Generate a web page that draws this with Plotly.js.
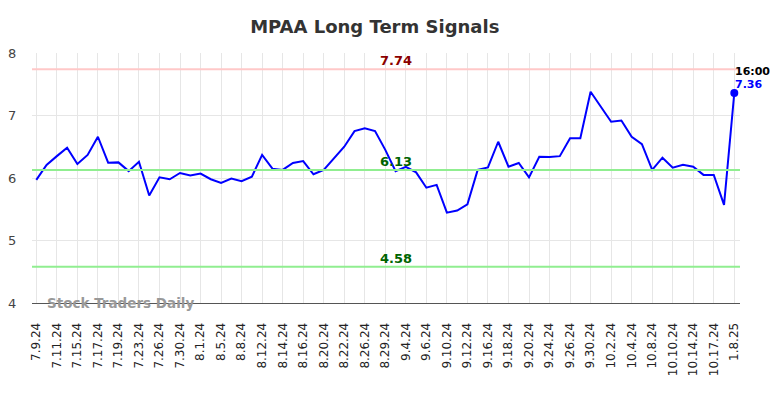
<!DOCTYPE html>
<html>
<head>
<meta charset="utf-8">
<script src="https://cdn.plot.ly/plotly-3.0.1.min.js"></script>
<style>html,body{margin:0;padding:0;background:#fff;}#chart{width:784px;height:398px;}</style>
</head>
<body>
<div id="chart"></div>
<script>
const dates = [
  "7.9.24","7.10.24","7.11.24","7.12.24","7.15.24","7.16.24","7.17.24","7.18.24","7.19.24","7.22.24",
  "7.23.24","7.25.24","7.26.24","7.29.24","7.30.24","7.31.24","8.1.24","8.2.24","8.5.24","8.7.24",
  "8.8.24","8.9.24","8.12.24","8.13.24","8.14.24","8.15.24","8.16.24","8.19.24","8.20.24","8.21.24",
  "8.22.24","8.23.24","8.26.24","8.27.24","8.29.24","9.3.24","9.4.24","9.5.24","9.6.24","9.9.24",
  "9.10.24","9.11.24","9.12.24","9.13.24","9.16.24","9.17.24","9.18.24","9.19.24","9.20.24","9.23.24",
  "9.24.24","9.25.24","9.26.24","9.27.24","9.30.24","10.1.24","10.2.24","10.3.24","10.4.24","10.7.24",
  "10.8.24","10.9.24","10.10.24","10.11.24","10.14.24","10.16.24","10.17.24","10.18.24","1.8.25"
];
const prices = [
  5.97,6.21,6.35,6.485,6.224,6.37,6.66,6.245,6.25,6.11,
  6.26,5.72,6.01,5.98,6.08,6.04,6.07,5.98,5.92,5.99,
  5.95,6.02,6.37,6.15,6.13,6.24,6.27,6.06,6.13,6.31,
  6.50,6.75,6.795,6.75,6.45,6.11,6.18,6.09,5.845,5.89,
  5.445,5.48,5.58,6.13,6.17,6.58,6.18,6.24,6.01,6.34,
  6.335,6.35,6.635,6.635,7.38,7.14,6.90,6.92,6.66,6.54,
  6.13,6.325,6.165,6.21,6.18,6.05,6.05,5.57,7.36
];
const tickLabels = dates.filter((d, i) => i % 2 === 0);
const resistance = 7.74;
const middle = 6.13;
const support = 4.58;
const lastTime = "16:00";
const titleText = "MPAA Long Term Signals";
const watermark = "Stock Traders Daily";

const lastDate = dates[dates.length - 1];
const lastPrice = prices[prices.length - 1];
const midCat = dates[35];

const hline = (y, color) => ({
  type: "line", xref: "paper", x0: 0, x1: 1, yref: "y", y0: y, y1: y,
  line: {color: color, width: 2}, layer: "above"
});

const traces = [
  {x: dates, y: prices, type: "scatter", mode: "lines",
   line: {color: "#0000ff", width: 2}, hoverinfo: "skip"},
  {x: [lastDate], y: [lastPrice], type: "scatter", mode: "markers",
   marker: {color: "#0000ff", size: 8}, hoverinfo: "skip"}
];

const font = "DejaVu Sans, sans-serif";
const layout = {
  width: 784, height: 398,
  margin: {l: 32, r: 44, t: 53, b: 95},
  paper_bgcolor: "#ffffff", plot_bgcolor: "#ffffff",
  showlegend: false,
  title: {text: "<b>" + titleText + "</b>", x: 0.478, xanchor: "center", y: 0.933, yanchor: "middle",
          font: {family: font, size: 18, color: "#333333"}},
  xaxis: {
    type: "category", range: [-0.42, dates.length - 1 + 0.555],
    tickvals: tickLabels, ticktext: tickLabels, tickangle: -90,
    tickfont: {family: font, size: 12, color: "#222222"},
    showgrid: true, gridcolor: "#e6e6e6", gridwidth: 1,
    showline: true, linecolor: "#555555", linewidth: 1,
    ticks: "outside", ticklen: 14, tickcolor: "rgba(0,0,0,0)",
    zeroline: false, fixedrange: true
  },
  yaxis: {
    range: [4, 8], tickvals: [4, 5, 6, 7, 8],
    tickfont: {family: font, size: 13, color: "#444444"},
    showgrid: true, gridcolor: "#e6e6e6", gridwidth: 1,
    zeroline: false, showline: false,
    ticks: "outside", ticklen: 12, tickcolor: "rgba(0,0,0,0)", fixedrange: true
  },
  shapes: [hline(resistance, "#ffc8c8"), hline(middle, "#90ee90"), hline(support, "#90ee90")],
  annotations: [
    {x: midCat, y: resistance, xref: "x", yref: "y", text: "<b>" + resistance.toFixed(2) + "</b>",
     showarrow: false, yanchor: "bottom", xanchor: "center", yshift: -1,
     font: {family: font, size: 13, color: "#8b0000"}},
    {x: midCat, y: middle, xref: "x", yref: "y", text: "<b>" + middle.toFixed(2) + "</b>",
     showarrow: false, yanchor: "bottom", xanchor: "center", yshift: -1,
     font: {family: font, size: 13, color: "#006400"}},
    {x: midCat, y: support, xref: "x", yref: "y", text: "<b>" + support.toFixed(2) + "</b>",
     showarrow: false, yanchor: "bottom", xanchor: "center", yshift: -1,
     font: {family: font, size: 13, color: "#006400"}},
    {x: lastDate, y: lastPrice, xref: "x", yref: "y", text: "<b>" + lastPrice.toFixed(2) + "</b>",
     showarrow: false, yanchor: "middle", xanchor: "left", yshift: 9, xshift: -1,
     font: {family: font, size: 11, color: "#0000ff"}},
    {x: lastDate, y: lastPrice, xref: "x", yref: "y", text: "<b>" + lastTime + "</b>",
     showarrow: false, yanchor: "middle", xanchor: "left", yshift: 22, xshift: -1,
     font: {family: font, size: 11, color: "#000000"}},
    {x: 0.019, y: 4, xref: "paper", yref: "y", text: "<b>" + watermark + "</b>",
     showarrow: false, xanchor: "left", yanchor: "middle",
     font: {family: font, size: 13.5, color: "#999999"}}
  ]
};

Plotly.newPlot("chart", traces, layout, {staticPlot: true, displayModeBar: false});
</script>
</body>
</html>
